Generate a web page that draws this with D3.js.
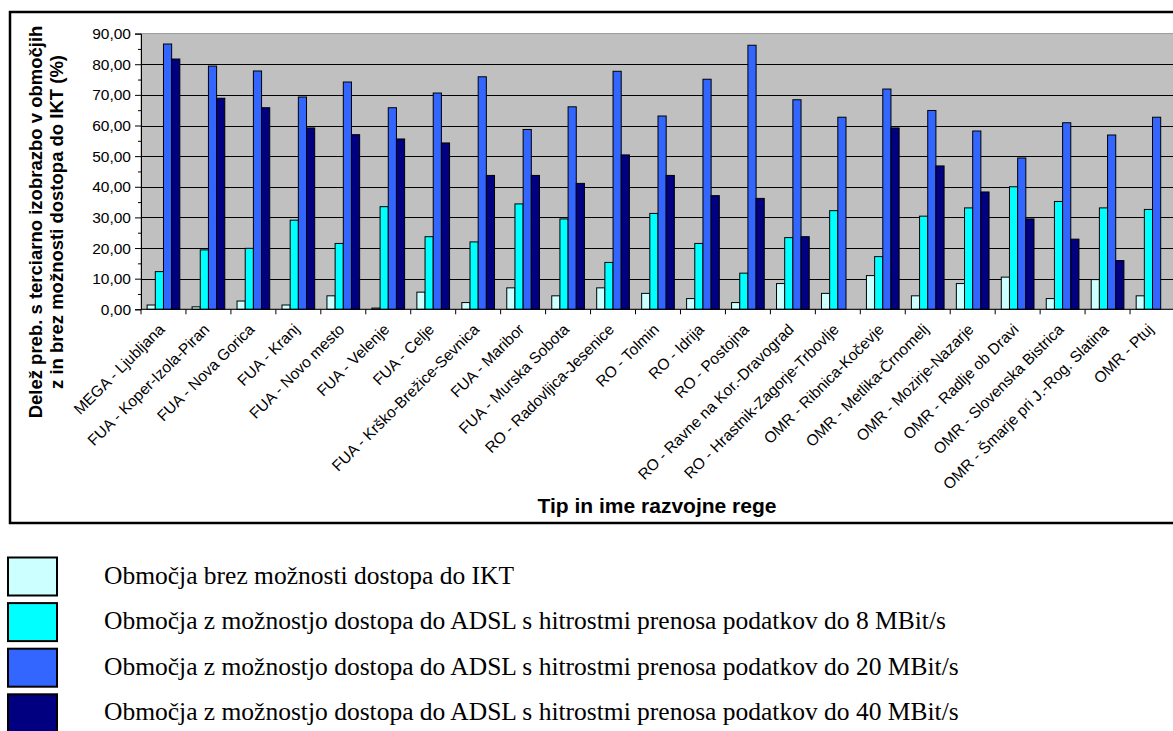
<!DOCTYPE html>
<html>
<head>
<meta charset="utf-8">
<script src="https://cdn.jsdelivr.net/npm/d3@7/dist/d3.min.js"></script>
<style>
  html, body { margin: 0; padding: 0; background: #ffffff; }
  svg { display: block; }
</style>
</head>
<body>
<svg id="chart" width="1173" height="731"></svg>
<script>
// Development regions (type - name)
const categories = [
  "MEGA - Ljubljana", "FUA - Koper-Izola-Piran", "FUA - Nova Gorica", "FUA - Kranj",
  "FUA - Novo mesto", "FUA - Velenje", "FUA - Celje", "FUA - Krško-Brežice-Sevnica",
  "FUA - Maribor", "FUA - Murska Sobota", "RO - Radovljica-Jesenice", "RO - Tolmin",
  "RO - Idrija", "RO - Postojna", "RO - Ravne na Kor.-Dravograd", "RO - Hrastnik-Zagorje-Trbovlje",
  "OMR - Ribnica-Kočevje", "OMR - Metlika-Črnomelj", "OMR - Mozirje-Nazarje", "OMR - Radlje ob Dravi",
  "OMR - Slovenska Bistrica", "OMR - Šmarje pri J.-Rog. Slatina", "OMR - Ptuj"
];

// Share of population with tertiary education (%) per access class
const noAccess = [1.4, 0.8, 2.7, 1.4, 4.4, 0.4, 5.6, 2.2, 7.0, 4.4, 7.0, 5.2,
                  3.5, 2.2, 8.4, 5.2, 11.0, 4.4, 8.4, 10.5, 3.5, 9.7, 4.4];
const adsl8    = [12.3, 19.4, 19.9, 29.1, 21.5, 33.5, 23.7, 22.0, 34.4, 29.5, 15.3, 31.3,
                  21.5, 11.8, 23.4, 32.2, 17.2, 30.4, 33.1, 40.0, 35.2, 33.1, 32.6];
const adsl20   = [86.6, 79.4, 77.8, 69.3, 74.2, 65.8, 70.6, 75.9, 58.7, 66.1, 77.7, 63.1,
                  75.1, 86.2, 68.4, 62.7, 71.9, 64.9, 58.2, 49.4, 60.9, 56.9, 62.7];
const adsl40   = [81.7, 68.9, 65.8, 59.2, 57.0, 55.6, 54.3, 43.7, 43.7, 41.1, 50.4, 43.7,
                  37.1, 36.2, 23.7, 0, 59.2, 46.8, 38.3, 29.5, 22.9, 15.9, 0];

const seriesNames = [
  "Območja brez možnosti dostopa do IKT",
  "Območja z možnostjo dostopa do ADSL s hitrostmi prenosa podatkov do 8 MBit/s",
  "Območja z možnostjo dostopa do ADSL s hitrostmi prenosa podatkov do 20 MBit/s",
  "Območja z možnostjo dostopa do ADSL s hitrostmi prenosa podatkov do 40 MBit/s"
];
const seriesColors = ["#CCFFFF", "#00FFFF", "#3366FF", "#000080"];
const yTickValues = [0, 10, 20, 30, 40, 50, 60, 70, 80, 90];
const yTitleLines = [
  "Delež preb. s terciarno izobrazbo v območjih",
  "z in brez možnosti dostopa do IKT (%)"
];
const xTitle = "Tip in ime razvojne rege";

const series = [noAccess, adsl8, adsl20, adsl40];

const svg = d3.select("#chart");
const plot = { left: 141, right: 1175, top: 33.6, bottom: 309.3 };
const sans = "Liberation Sans, Arial, sans-serif";

// Outer chart frame (continues past the right edge)
svg.append("rect")
  .attr("x", 10).attr("y", 12)
  .attr("width", 1180).attr("height", 511)
  .attr("fill", "#ffffff").attr("stroke", "#000000").attr("stroke-width", 2.5);

const x = d3.scaleBand().domain(categories).range([plot.left, plot.right])
  .paddingInner(0).paddingOuter(0);
const xSub = d3.scaleBand().domain(d3.range(series.length)).range([0, x.bandwidth()])
  .paddingInner(0).paddingOuter(0.75);
const y = d3.scaleLinear().domain([0, 90]).range([plot.bottom, plot.top]);

// Plot area background
svg.append("rect")
  .attr("x", plot.left).attr("y", plot.top)
  .attr("width", plot.right - plot.left).attr("height", plot.bottom - plot.top)
  .attr("fill", "#C0C0C0").attr("stroke", "#999999").attr("stroke-width", 1);

// Horizontal gridlines
svg.append("g").selectAll("line")
  .data(yTickValues.filter(v => v > 0 && v < 90))
  .join("line")
  .attr("x1", plot.left).attr("x2", plot.right)
  .attr("y1", d => Math.round(y(d)) + 0.5).attr("y2", d => Math.round(y(d)) + 0.5)
  .attr("stroke", "#000000").attr("stroke-width", 1);

// Bars
const groups = svg.append("g").selectAll("g")
  .data(categories)
  .join("g")
  .attr("transform", d => `translate(${x(d)},0)`);

groups.selectAll("rect")
  .data((d, i) => series.map((s, k) => ({ k, v: s[i] })).filter(e => e.v > 0))
  .join("rect")
  .attr("x", e => xSub(e.k))
  .attr("y", e => y(e.v))
  .attr("width", xSub.bandwidth())
  .attr("height", e => y(0) - y(e.v))
  .attr("fill", e => seriesColors[e.k])
  .attr("stroke", "#000000").attr("stroke-width", 1);

const fmt = v => d3.format(".2f")(v).replace(".", ",");

// Y axis with minor ticks
const yAxisG = svg.append("g")
  .attr("transform", `translate(${plot.left},0)`)
  .call(d3.axisLeft(y).tickValues(yTickValues).tickSize(6).tickPadding(4).tickFormat(fmt));
yAxisG.selectAll("text")
  .attr("font-family", sans)
  .attr("font-size", 15.5).attr("fill", "#000");
yAxisG.select(".domain").attr("stroke", "#000");
svg.append("g")
  .attr("transform", `translate(${plot.left},0)`)
  .call(d3.axisLeft(y).tickValues(d3.range(5, 90, 10)).tickSize(3).tickFormat(""))
  .select(".domain").remove();

// X axis: ticks at category boundaries
const xAxisG = svg.append("g");
xAxisG.append("line")
  .attr("x1", plot.left).attr("x2", plot.right)
  .attr("y1", plot.bottom).attr("y2", plot.bottom)
  .attr("stroke", "#000").attr("stroke-width", 1);
xAxisG.selectAll("line.tick")
  .data(categories)
  .join("line")
  .attr("class", "tick")
  .attr("x1", d => x(d)).attr("x2", d => x(d))
  .attr("y1", plot.bottom).attr("y2", plot.bottom + 5)
  .attr("stroke", "#000");

xAxisG.selectAll("text")
  .data(categories)
  .join("text")
  .attr("transform", d => `translate(${x(d) + x.bandwidth() / 2 + 2},${plot.bottom + 21}) rotate(-45)`)
  .attr("text-anchor", "end")
  .attr("font-family", sans)
  .attr("font-size", 15.5)
  .attr("fill", "#000")
  .text(d => d);

// Axis titles
svg.append("text")
  .attr("x", 657).attr("y", 513)
  .attr("text-anchor", "middle")
  .attr("font-family", sans)
  .attr("font-weight", "bold").attr("font-size", 21)
  .text(xTitle);

svg.append("g")
  .attr("transform", "translate(0,222) rotate(-90)")
  .selectAll("text")
  .data(yTitleLines)
  .join("text")
  .attr("x", 0)
  .attr("y", (d, i) => 42 + i * 21)
  .attr("text-anchor", "middle")
  .attr("font-family", sans)
  .attr("font-weight", "bold").attr("font-size", 18.5)
  .text(d => d);

// Legend below the chart
const legend = svg.append("g").selectAll("g")
  .data(seriesNames)
  .join("g")
  .attr("transform", (d, i) => `translate(0,${557.5 + i * 45.6})`);
legend.append("rect")
  .attr("x", 8).attr("y", 0).attr("width", 49).attr("height", 38)
  .attr("fill", (d, i) => seriesColors[i])
  .attr("stroke", "#000").attr("stroke-width", 2);
legend.append("text")
  .attr("x", 104).attr("y", 26)
  .attr("font-family", "Liberation Serif, Times New Roman, serif")
  .attr("font-size", 25.5)
  .attr("fill", "#000")
  .text(d => d);
</script>
</body>
</html>
